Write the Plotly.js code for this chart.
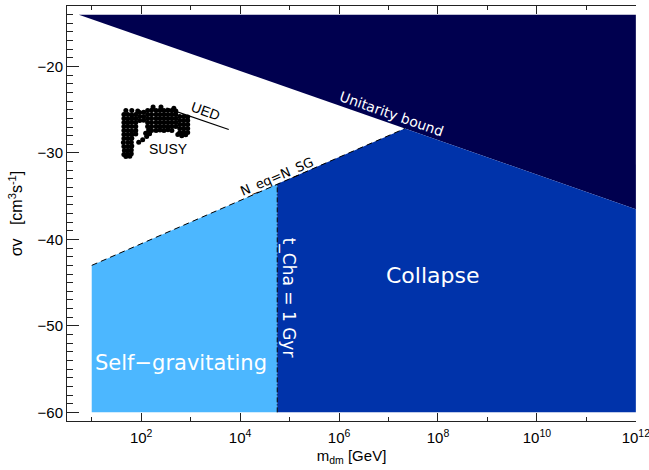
<!DOCTYPE html>
<html><head><meta charset="utf-8">
<script src="https://cdn.plot.ly/plotly-3.0.1.min.js"></script>
<style>html,body{margin:0;padding:0;background:#fff}#chart{width:649px;height:470px}</style>
</head><body><div id="chart"></div>
<script>
// x values: log10(m_dm / GeV); y values: log10(sigma v / cm^3 s^-1)
const xTickLogs = [2, 4, 6, 8, 10, 12];
const xTickText = ['10<sup>2</sup>','10<sup>4</sup>','10<sup>6</sup>','10<sup>8</sup>','10<sup>10</sup>','10<sup>12</sup>'];
const xMinorLogs = [1, 3, 5, 7, 9, 11];

const unitarityX = [0.74, 12, 12];
const unitarityY = [-14, -14, -36.5];
const selfGravX = [1, 1, 4.75, 4.75];
const selfGravY = [-60, -43, -33.6, -60];
const collapseX = [4.75, 4.75, 7.33, 12, 12];
const collapseY = [-60, -33.6, -27.17, -36.5, -60];
const neqX = [1, 7.33];
const neqY = [-43, -27.17];
const tchaX = [4.75, 4.75];
const tchaY = [-60, -33.6];
const uedX = [2.51, 3.77];
const uedY = [-24.82, -27.29];

const susyLogM = [
  1.65,1.73,1.81,1.89, 1.65,1.73,1.81,1.89, 1.65,1.73,1.81,1.89,
  1.65,1.73,1.81,1.89, 1.65,1.73,1.81,1.89, 1.65,1.73,1.81,1.89,
  1.65,1.73,1.81, 1.64,1.73,1.80, 1.65,1.73,1.81, 1.66,1.73,1.80, 1.65,1.72,1.80,
  1.69,1.77,
  1.69,1.81,1.93,
  1.97,2.05, 1.97,2.05, 1.97,2.05,
  2.13,2.21,2.30,2.38,2.46,2.54,2.62,2.70,
  2.13,2.21,2.30,2.38,2.46,2.54,2.62,2.70,
  2.13,2.21,2.30,2.38,2.46,2.54,2.62,2.70,
  2.13,2.21,2.30,2.38,2.46,2.54,2.62,2.70,
  2.13,2.21,2.30,2.38,2.46,2.54,2.62,2.70,
  2.15,2.21,2.30,2.38,2.46,2.54,2.62,
  2.78,2.86,2.94, 2.78,2.86,2.94, 2.78,2.86,2.94, 2.78,2.86,2.94, 2.78,2.86,2.94,
  2.74,2.82,2.90,
  2.24,2.40,2.66,
  2.09,2.17,2.03,1.95,2.11
];
const susySigma = [
  -25.55,-25.55,-25.60,-25.55, -26.01,-26.05,-26.01,-26.01, -26.48,-26.48,-26.45,-26.48,
  -26.94,-26.90,-26.94,-26.94, -27.40,-27.40,-27.45,-27.40, -27.87,-27.85,-27.87,-27.80,
  -28.33,-28.33,-28.30, -28.79,-28.79,-28.75, -29.26,-29.26,-29.20, -29.72,-29.70,-29.65, -30.18,-30.15,-30.10,
  -30.42,-30.38,
  -25.09,-25.09,-25.15,
  -25.32,-25.30, -25.78,-25.78, -26.24,-26.20,
  -25.09,-25.05,-25.09,-25.05,-25.09,-25.05,-25.09,-25.15,
  -25.55,-25.55,-25.55,-25.55,-25.55,-25.55,-25.55,-25.55,
  -26.01,-26.01,-26.01,-26.01,-26.01,-26.01,-26.01,-26.01,
  -26.48,-26.48,-26.48,-26.48,-26.48,-26.48,-26.48,-26.48,
  -26.94,-26.94,-26.94,-26.94,-26.94,-26.94,-26.94,-26.94,
  -27.35,-27.40,-27.40,-27.35,-27.40,-27.30,-27.40,
  -25.78,-25.78,-25.85, -26.24,-26.24,-26.24, -26.71,-26.71,-26.71, -27.17,-27.17,-27.17, -27.64,-27.60,-27.64,
  -27.87,-28.00,-27.90,
  -24.69,-24.69,-24.82,
  -27.72,-27.79,-28.48,-28.76,-28.10
];

const pw = v => v.map(t => Math.pow(10, t));
const FONT = 'Liberation Sans, Arial, sans-serif';
const WIDE = 'DejaVu Sans, Liberation Sans, sans-serif';

const traces = [
  {x: pw(unitarityX), y: unitarityY, fill: 'toself', fillcolor: '#00004F', line: {width: 0, color: '#00004F'}, mode: 'lines', hoverinfo: 'skip'},
  {x: pw(selfGravX), y: selfGravY, fill: 'toself', fillcolor: '#4CB7FF', line: {width: 0, color: '#4CB7FF'}, mode: 'lines', hoverinfo: 'skip'},
  {x: pw(collapseX), y: collapseY, fill: 'toself', fillcolor: '#0033AA', line: {width: 0, color: '#0033AA'}, mode: 'lines', hoverinfo: 'skip'},
  {x: pw(neqX), y: neqY, mode: 'lines', line: {color: '#000', width: 1, dash: '6px,4px'}, hoverinfo: 'skip'},
  {x: pw(tchaX), y: tchaY, mode: 'lines', line: {color: '#000', width: 1, dash: '5px,2px,1px,2px'}, hoverinfo: 'skip'},
  {x: pw(uedX), y: uedY, mode: 'lines', line: {color: '#000', width: 1.2}, hoverinfo: 'skip'},
  {x: pw(susyLogM), y: susySigma, mode: 'markers', marker: {color: '#000', size: 5}, hoverinfo: 'skip'}
];

const ann = (x, y, text, size, color, angle, fam) => ({x, y, xref: 'x', yref: 'y', text, showarrow: false,
  font: {family: fam || FONT, size, color}, textangle: angle || 0});

const layout = {
  width: 649, height: 470,
  margin: {l: 67, r: 13, t: 6, b: 49},
  paper_bgcolor: '#fff', plot_bgcolor: '#fff',
  showlegend: false,
  font: {family: FONT, color: '#000'},
  xaxis: {
    type: 'log', range: [0.5, 12.003],
    tickmode: 'array', tickvals: pw(xTickLogs), ticktext: xTickText,
    ticks: 'inside', ticklen: 8, tickwidth: 1, tickcolor: '#222',
    minor: {tickmode: 'array', tickvals: pw(xMinorLogs), ticks: 'inside', ticklen: 4, tickcolor: '#222'},
    showline: true, linecolor: '#222', linewidth: 1, mirror: 'ticks',
    showgrid: false, zeroline: false,
    tickfont: {size: 15, family: FONT},
    ticklabelstandoff: 3,
    ticklabeloverflow: 'allow',
    title: {text: 'm<sub>dm</sub> [GeV]', font: {size: 15, family: FONT}, standoff: 5}
  },
  yaxis: {
    range: [-61, -13], dtick: 10, tick0: 0,
    ticks: 'inside', ticklen: 12, tickwidth: 1, tickcolor: '#222',
    minor: {dtick: 1, ticks: 'inside', ticklen: 6, tickcolor: '#222'},
    showline: true, linecolor: '#222', linewidth: 1,
    showgrid: false, zeroline: false,
    tickfont: {size: 15, family: FONT},
    title: {text: 'σv   [cm<sup>3</sup>s<sup>-1</sup>]', font: {size: 16, family: FONT}, standoff: 10}
  },
  yaxis2: {
    overlaying: 'y', side: 'right', range: [-61, -13], dtick: 10, tick0: 0,
    ticks: 'outside', ticklen: 12, tickwidth: 1, tickcolor: '#222',
    minor: {dtick: 1, ticks: 'outside', ticklen: 6, tickcolor: '#222'},
    showline: true, linecolor: '#556', linewidth: 1,
    showticklabels: false, showgrid: false, zeroline: false
  },
  annotations: [
    ann(7.07, -25.5, 'Unitarity bound', 14, '#fff', 19.3, WIDE),
    ann(4.745, -32.73, 'N_eq=N_SG', 13, '#000', -23, WIDE),
    ann(3.30, -25.09, 'UED', 14, '#000', 20),
    ann(2.56, -29.49, 'SUSY', 14, '#000', 0),
    ann(7.90, -44.2, 'Collapse', 22, '#fff', 0, WIDE),
    ann(2.80, -54.29, 'Self−gravitating', 21, '#fff', 0, WIDE),
    ann(4.97, -46.75, 't_Cha = 1 Gyr', 17, '#fff', 90, WIDE)
  ]
};

Plotly.newPlot('chart', traces, layout, {staticPlot: true, displayModeBar: false});
</script></body></html>
